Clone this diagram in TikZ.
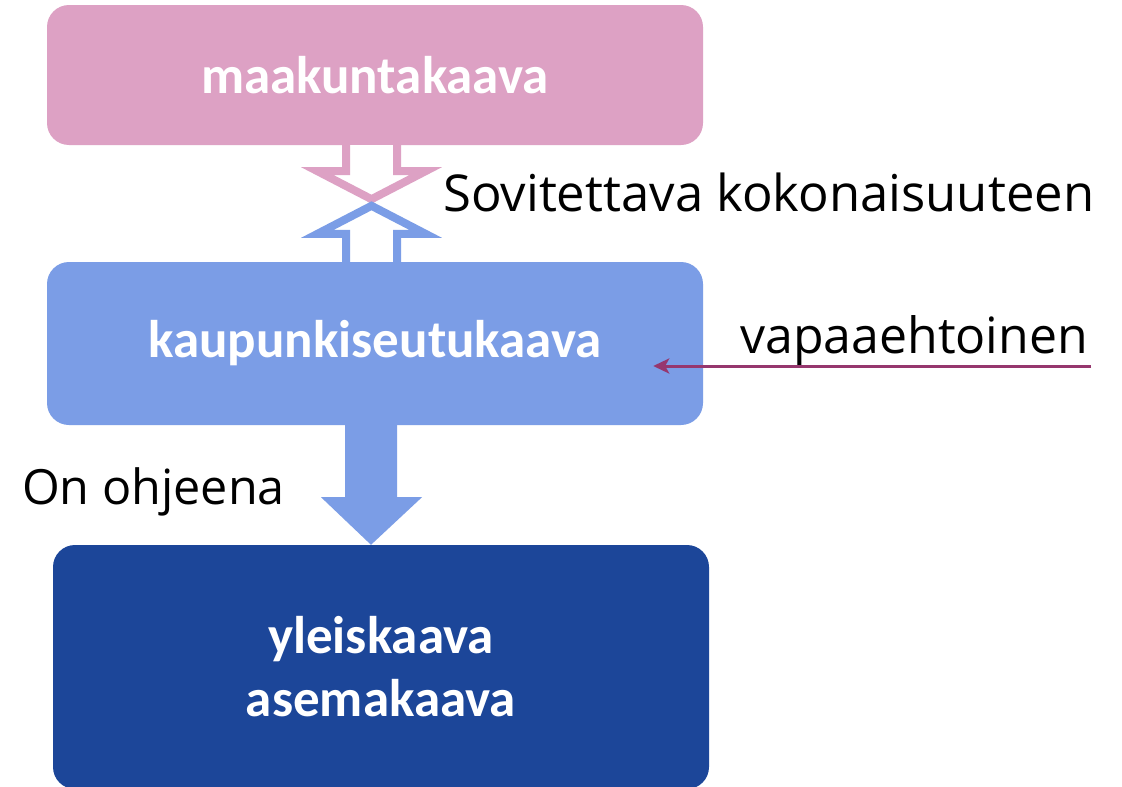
\documentclass[tikz,border=0pt]{standalone}
\usepackage{fontspec}
\setmainfont{Open Sans}
\newfontfamily\boxfont{Carlito}
\usetikzlibrary{arrows.meta,calc}
\definecolor{pinkc}{RGB}{221,161,196}
\definecolor{bluec}{RGB}{123,157,230}
\definecolor{darkc}{RGB}{28,70,153}
\definecolor{magc}{RGB}{150,55,110}
\begin{document}
\begin{tikzpicture}[x=1pt,y=-1pt,
  kbox/.style={rounded corners=22pt, minimum width=656pt, inner sep=0pt, text=white,
    font=\boxfont\bfseries\fontsize{53}{63}\selectfont, align=center},
  lbl/.style={font=\fontsize{50}{60}\selectfont, inner sep=0pt, text=black},
  hollow/.style={line width=8pt, fill=white, line join=miter},
]
\useasboundingbox (0,0) rectangle (1122,787);
\fill[white] (0,0) rectangle (1122,787);
\node[kbox, fill=pinkc, minimum height=140pt] (maak) at (375,75) {maakuntakaava};
\node[kbox, fill=bluec, minimum height=163pt] (kaup) at (375,343.5) {kaupunkiseutukaava};
\node[kbox, fill=darkc, minimum height=244pt] (yle) at (381,667) {yleiskaava\\asemakaava};
% hollow arrows
\coordinate (pa) at ($(maak.south)+(-3.5,0)$);
\coordinate (pb) at ($(kaup.north)+(-3.5,0)$);
\draw[hollow, draw=pinkc] ($(pa)+(-25.5,0)$) -- ($(pa)+(-25.5,26)$) -- ($(pa)+(-54,26)$)
  -- ($(pa)+(0,54)$) -- ($(pa)+(54,26)$) -- ($(pa)+(25.5,26)$) -- ($(pa)+(25.5,0)$);
\draw[hollow, draw=bluec] ($(pb)+(-25.5,0)$) -- ($(pb)+(-25.5,-28)$) -- ($(pb)+(-54,-28)$)
  -- ($(pb)+(0,-56)$) -- ($(pb)+(54,-28)$) -- ($(pb)+(25.5,-28)$) -- ($(pb)+(25.5,0)$);
% solid arrow
\coordinate (sa) at ($(kaup.south)+(-4,0)$);
\fill[bluec] ($(sa)+(-26,0)$) -- ($(sa)+(-26,72)$) -- ($(sa)+(-50,72)$) -- (sa |- yle.north)
  -- ($(sa)+(51,72)$) -- ($(sa)+(26,72)$) -- ($(sa)+(26,0)$) -- cycle;
% magenta arrow
\coordinate (vstart) at (1091,366);
\draw[magc, line width=3pt, -{Stealth[length=16pt,width=15pt,inset=4pt]}] (vstart) -- ($(kaup.east)+(-50,22.5)$);
% labels
\node[lbl, anchor=base west] (sov) at (443,211) {\fontsize{50.8}{60}\selectfont Sovitettava kokonaisuuteen};
\node[lbl, anchor=base west] (vap) at (740,353) {vapaaehtoinen};
\node[lbl, anchor=base west] (onoh) at (22,504) {\fontsize{48.5}{60}\selectfont On ohjeena};
\end{tikzpicture}
\end{document}
